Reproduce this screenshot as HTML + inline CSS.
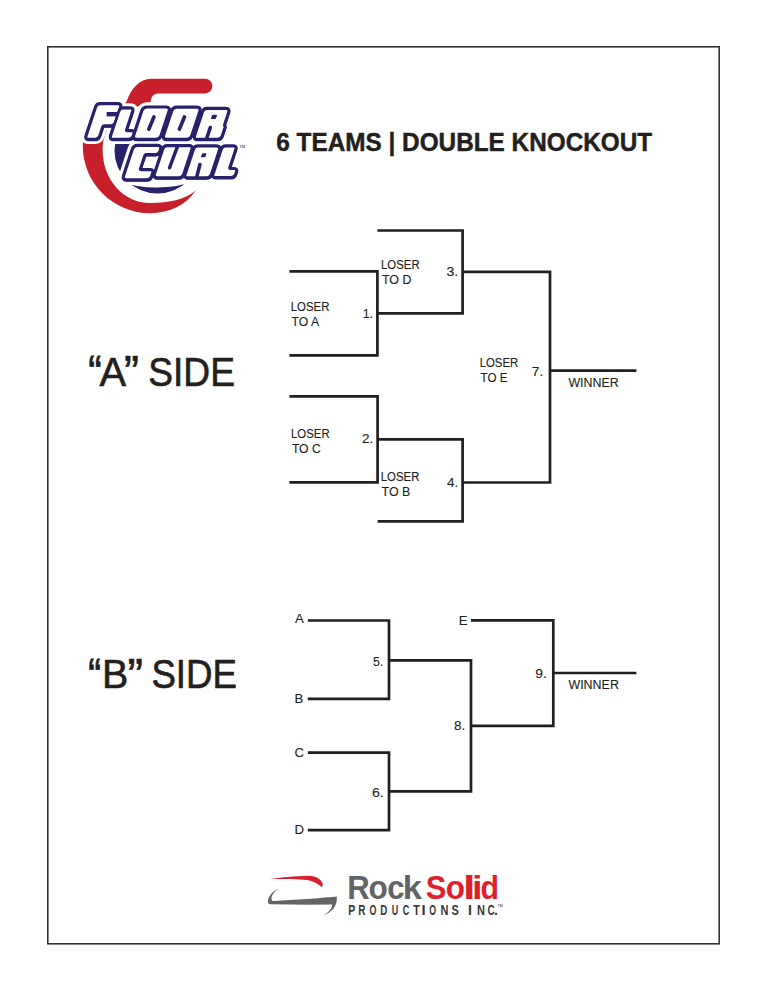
<!DOCTYPE html>
<html><head><meta charset="utf-8"><style>
html,body{margin:0;padding:0;background:#fff;}
svg{display:block;}
text{font-family:"Liberation Sans",sans-serif;}
</style></head><body>
<svg width="768" height="994" viewBox="0 0 768 994">
<rect x="0" y="0" width="768" height="994" fill="#fff"/>
<rect x="47.8" y="46.8" width="671.4" height="897" fill="none" stroke="#333" stroke-width="1.6"/>
<path fill="#c8202b" d="M205,78.7 L151,78.7 C140,79 131,88 126.4,102 L100,120 C88,130 82.8,138 82.8,146 A67.2 67.2 0 0 0 150,213.2 C170,213 186,205 195.6,190.5 C186,199 170,203 150,203 C124,203 102.6,180 102.6,150 C102.6,132 112,112 150.6,102.4 C151,97 153,93.4 158.3,93.4 L205,93.4 A7.35 7.35 0 0 0 205,78.7 Z"/>
<circle cx="157.5" cy="150.5" r="43" fill="#27226b"/>
<path d="M118,172 L200,172 L200,179.4 A126 126 0 0 1 118,181.4 Z" fill="#fff"/>
<path d="M86.30,135.96 Q85.30,139.00 88.50,139.00 L95.30,139.00 Q98.50,139.00 99.50,135.96 L102.58,126.64 Q102.95,125.50 104.16,125.50 L111.05,125.50 Q114.25,125.50 115.26,122.46 L120.35,107.04 Q121.35,104.00 118.15,104.00 L100.05,104.00 Q96.85,104.00 95.85,107.04 Z" fill="#fff" stroke="#fff" stroke-width="10" stroke-linejoin="round"/>
<path d="M110.80,135.96 Q109.80,139.00 113.00,139.00 L128.80,139.00 Q132.00,139.00 133.00,135.96 L133.64,134.04 Q134.64,131.00 131.44,131.00 L127.14,131.00 Q125.94,131.00 126.32,129.86 L132.46,111.24 Q133.46,108.20 130.26,108.20 L123.16,108.20 Q119.96,108.20 118.96,111.24 Z" fill="#fff" stroke="#fff" stroke-width="10" stroke-linejoin="round"/>
<path d="M134.05,135.20 Q132.80,139.00 136.80,139.00 L155.60,139.00 Q159.60,139.00 160.85,135.20 L168.81,111.10 Q170.06,107.30 166.06,107.30 L147.26,107.30 Q143.26,107.30 142.01,111.10 Z" fill="#fff" stroke="#fff" stroke-width="10" stroke-linejoin="round"/>
<path d="M163.95,135.20 Q162.70,139.00 166.70,139.00 L186.40,139.00 Q190.40,139.00 191.65,135.20 L199.54,111.30 Q200.80,107.50 196.80,107.50 L177.09,107.50 Q173.09,107.50 171.84,111.30 Z" fill="#fff" stroke="#fff" stroke-width="10" stroke-linejoin="round"/>
<path d="M194.80,135.96 Q193.80,139.00 197.00,139.00 L217.80,139.00 Q221.00,139.00 222.00,135.96 L224.90,127.19 Q225.12,126.50 224.59,126.00 L224.59,126.00 Q224.06,125.50 224.28,124.81 L228.38,112.40 Q229.63,108.60 225.63,108.60 L207.03,108.60 Q203.83,108.60 202.83,111.64 Z" fill="#fff" stroke="#fff" stroke-width="10" stroke-linejoin="round"/>
<path d="M123.86,175.70 Q122.60,179.50 126.60,179.50 L147.11,179.50 Q150.31,179.50 151.31,176.46 L152.47,172.94 Q153.47,169.90 150.27,169.90 L141.02,169.90 Q139.82,169.90 140.20,168.76 L144.56,155.54 Q144.94,154.40 146.14,154.40 L155.39,154.40 Q158.59,154.40 159.59,151.36 L160.24,149.40 Q161.49,145.60 157.49,145.60 L137.79,145.60 Q133.79,145.60 132.54,149.40 Z" fill="#fff" stroke="#fff" stroke-width="10" stroke-linejoin="round"/>
<path d="M154.82,173.70 Q153.56,177.50 157.56,177.50 L179.16,177.50 Q182.36,177.50 183.37,174.46 L191.76,149.04 Q192.76,146.00 189.56,146.00 L167.16,146.00 Q163.96,146.00 162.96,149.04 Z" fill="#fff" stroke="#fff" stroke-width="10" stroke-linejoin="round"/>
<path d="M185.37,174.46 Q184.36,177.50 187.56,177.50 L206.97,177.50 Q210.16,177.50 211.17,174.46 L219.24,150.00 Q220.49,146.20 216.49,146.20 L197.89,146.20 Q194.69,146.20 193.69,149.24 Z" fill="#fff" stroke="#fff" stroke-width="10" stroke-linejoin="round"/>
<path d="M213.27,174.16 Q212.26,177.20 215.46,177.20 L231.26,177.20 Q234.46,177.20 235.47,174.16 L236.23,171.84 Q237.24,168.80 234.04,168.80 L230.39,168.80 Q229.19,168.80 229.56,167.66 L235.64,149.24 Q236.64,146.20 233.44,146.20 L225.69,146.20 Q222.49,146.20 221.49,149.24 Z" fill="#fff" stroke="#fff" stroke-width="10" stroke-linejoin="round"/>
<path d="M123.55,176.65 Q122.60,179.50 125.60,179.50 L147.31,179.50 Q150.31,179.50 151.25,176.65 L160.55,148.45 Q161.49,145.60 158.49,145.60 L136.79,145.60 Q133.79,145.60 132.85,148.45 Z" fill="#fff"/>
<path d="M86.30,135.96 Q85.30,139.00 88.50,139.00 L95.30,139.00 Q98.50,139.00 99.50,135.96 L102.58,126.64 Q102.95,125.50 104.16,125.50 L111.05,125.50 Q114.25,125.50 115.26,122.46 L120.35,107.04 Q121.35,104.00 118.15,104.00 L100.05,104.00 Q96.85,104.00 95.85,107.04 Z" fill="#27226b" stroke="#27226b" stroke-width="3.8" stroke-linejoin="round"/>
<path d="M110.80,135.96 Q109.80,139.00 113.00,139.00 L128.80,139.00 Q132.00,139.00 133.00,135.96 L133.64,134.04 Q134.64,131.00 131.44,131.00 L127.14,131.00 Q125.94,131.00 126.32,129.86 L132.46,111.24 Q133.46,108.20 130.26,108.20 L123.16,108.20 Q119.96,108.20 118.96,111.24 Z" fill="#27226b" stroke="#27226b" stroke-width="3.8" stroke-linejoin="round"/>
<path d="M134.05,135.20 Q132.80,139.00 136.80,139.00 L155.60,139.00 Q159.60,139.00 160.85,135.20 L168.81,111.10 Q170.06,107.30 166.06,107.30 L147.26,107.30 Q143.26,107.30 142.01,111.10 Z" fill="#27226b" stroke="#27226b" stroke-width="3.8" stroke-linejoin="round"/>
<path d="M163.95,135.20 Q162.70,139.00 166.70,139.00 L186.40,139.00 Q190.40,139.00 191.65,135.20 L199.54,111.30 Q200.80,107.50 196.80,107.50 L177.09,107.50 Q173.09,107.50 171.84,111.30 Z" fill="#27226b" stroke="#27226b" stroke-width="3.8" stroke-linejoin="round"/>
<path d="M194.80,135.96 Q193.80,139.00 197.00,139.00 L217.80,139.00 Q221.00,139.00 222.00,135.96 L224.90,127.19 Q225.12,126.50 224.59,126.00 L224.59,126.00 Q224.06,125.50 224.28,124.81 L228.38,112.40 Q229.63,108.60 225.63,108.60 L207.03,108.60 Q203.83,108.60 202.83,111.64 Z" fill="#27226b" stroke="#27226b" stroke-width="3.8" stroke-linejoin="round"/>
<path d="M123.86,175.70 Q122.60,179.50 126.60,179.50 L147.11,179.50 Q150.31,179.50 151.31,176.46 L152.47,172.94 Q153.47,169.90 150.27,169.90 L141.02,169.90 Q139.82,169.90 140.20,168.76 L144.56,155.54 Q144.94,154.40 146.14,154.40 L155.39,154.40 Q158.59,154.40 159.59,151.36 L160.24,149.40 Q161.49,145.60 157.49,145.60 L137.79,145.60 Q133.79,145.60 132.54,149.40 Z" fill="#27226b" stroke="#27226b" stroke-width="3.8" stroke-linejoin="round"/>
<path d="M154.82,173.70 Q153.56,177.50 157.56,177.50 L179.16,177.50 Q182.36,177.50 183.37,174.46 L191.76,149.04 Q192.76,146.00 189.56,146.00 L167.16,146.00 Q163.96,146.00 162.96,149.04 Z" fill="#27226b" stroke="#27226b" stroke-width="3.8" stroke-linejoin="round"/>
<path d="M185.37,174.46 Q184.36,177.50 187.56,177.50 L206.97,177.50 Q210.16,177.50 211.17,174.46 L219.24,150.00 Q220.49,146.20 216.49,146.20 L197.89,146.20 Q194.69,146.20 193.69,149.24 Z" fill="#27226b" stroke="#27226b" stroke-width="3.8" stroke-linejoin="round"/>
<path d="M213.27,174.16 Q212.26,177.20 215.46,177.20 L231.26,177.20 Q234.46,177.20 235.47,174.16 L236.23,171.84 Q237.24,168.80 234.04,168.80 L230.39,168.80 Q229.19,168.80 229.56,167.66 L235.64,149.24 Q236.64,146.20 233.44,146.20 L225.69,146.20 Q222.49,146.20 221.49,149.24 Z" fill="#27226b" stroke="#27226b" stroke-width="3.8" stroke-linejoin="round"/>
<path d="M86.30,135.96 Q85.30,139.00 88.50,139.00 L95.30,139.00 Q98.50,139.00 99.50,135.96 L102.58,126.64 Q102.95,125.50 104.16,125.50 L111.05,125.50 Q114.25,125.50 115.26,122.46 L120.35,107.04 Q121.35,104.00 118.15,104.00 L100.05,104.00 Q96.85,104.00 95.85,107.04 Z" fill="none" stroke="#27226b" stroke-width="2.8" stroke-linejoin="round" transform="translate(0,0.8)"/>
<path d="M110.80,135.96 Q109.80,139.00 113.00,139.00 L128.80,139.00 Q132.00,139.00 133.00,135.96 L133.64,134.04 Q134.64,131.00 131.44,131.00 L127.14,131.00 Q125.94,131.00 126.32,129.86 L132.46,111.24 Q133.46,108.20 130.26,108.20 L123.16,108.20 Q119.96,108.20 118.96,111.24 Z" fill="none" stroke="#27226b" stroke-width="2.8" stroke-linejoin="round" transform="translate(0,0.8)"/>
<path d="M134.05,135.20 Q132.80,139.00 136.80,139.00 L155.60,139.00 Q159.60,139.00 160.85,135.20 L168.81,111.10 Q170.06,107.30 166.06,107.30 L147.26,107.30 Q143.26,107.30 142.01,111.10 Z" fill="none" stroke="#27226b" stroke-width="2.8" stroke-linejoin="round" transform="translate(0,0.8)"/>
<path d="M163.95,135.20 Q162.70,139.00 166.70,139.00 L186.40,139.00 Q190.40,139.00 191.65,135.20 L199.54,111.30 Q200.80,107.50 196.80,107.50 L177.09,107.50 Q173.09,107.50 171.84,111.30 Z" fill="none" stroke="#27226b" stroke-width="2.8" stroke-linejoin="round" transform="translate(0,0.8)"/>
<path d="M194.80,135.96 Q193.80,139.00 197.00,139.00 L217.80,139.00 Q221.00,139.00 222.00,135.96 L224.90,127.19 Q225.12,126.50 224.59,126.00 L224.59,126.00 Q224.06,125.50 224.28,124.81 L228.38,112.40 Q229.63,108.60 225.63,108.60 L207.03,108.60 Q203.83,108.60 202.83,111.64 Z" fill="none" stroke="#27226b" stroke-width="2.8" stroke-linejoin="round" transform="translate(0,0.8)"/>
<path d="M123.86,175.70 Q122.60,179.50 126.60,179.50 L147.11,179.50 Q150.31,179.50 151.31,176.46 L152.47,172.94 Q153.47,169.90 150.27,169.90 L141.02,169.90 Q139.82,169.90 140.20,168.76 L144.56,155.54 Q144.94,154.40 146.14,154.40 L155.39,154.40 Q158.59,154.40 159.59,151.36 L160.24,149.40 Q161.49,145.60 157.49,145.60 L137.79,145.60 Q133.79,145.60 132.54,149.40 Z" fill="none" stroke="#27226b" stroke-width="2.8" stroke-linejoin="round" transform="translate(0,0.8)"/>
<path d="M154.82,173.70 Q153.56,177.50 157.56,177.50 L179.16,177.50 Q182.36,177.50 183.37,174.46 L191.76,149.04 Q192.76,146.00 189.56,146.00 L167.16,146.00 Q163.96,146.00 162.96,149.04 Z" fill="none" stroke="#27226b" stroke-width="2.8" stroke-linejoin="round" transform="translate(0,0.8)"/>
<path d="M185.37,174.46 Q184.36,177.50 187.56,177.50 L206.97,177.50 Q210.16,177.50 211.17,174.46 L219.24,150.00 Q220.49,146.20 216.49,146.20 L197.89,146.20 Q194.69,146.20 193.69,149.24 Z" fill="none" stroke="#27226b" stroke-width="2.8" stroke-linejoin="round" transform="translate(0,0.8)"/>
<path d="M213.27,174.16 Q212.26,177.20 215.46,177.20 L231.26,177.20 Q234.46,177.20 235.47,174.16 L236.23,171.84 Q237.24,168.80 234.04,168.80 L230.39,168.80 Q229.19,168.80 229.56,167.66 L235.64,149.24 Q236.64,146.20 233.44,146.20 L225.69,146.20 Q222.49,146.20 221.49,149.24 Z" fill="none" stroke="#27226b" stroke-width="2.8" stroke-linejoin="round" transform="translate(0,0.8)"/>
<path d="M86.30,135.96 Q85.30,139.00 88.50,139.00 L95.30,139.00 Q98.50,139.00 99.50,135.96 L102.58,126.64 Q102.95,125.50 104.16,125.50 L111.05,125.50 Q114.25,125.50 115.26,122.46 L120.35,107.04 Q121.35,104.00 118.15,104.00 L100.05,104.00 Q96.85,104.00 95.85,107.04 Z" fill="#fff" stroke="#27226b" stroke-width="2.6" stroke-linejoin="round"/>
<path d="M110.80,135.96 Q109.80,139.00 113.00,139.00 L128.80,139.00 Q132.00,139.00 133.00,135.96 L133.64,134.04 Q134.64,131.00 131.44,131.00 L127.14,131.00 Q125.94,131.00 126.32,129.86 L132.46,111.24 Q133.46,108.20 130.26,108.20 L123.16,108.20 Q119.96,108.20 118.96,111.24 Z" fill="#fff" stroke="#27226b" stroke-width="2.6" stroke-linejoin="round"/>
<path d="M134.05,135.20 Q132.80,139.00 136.80,139.00 L155.60,139.00 Q159.60,139.00 160.85,135.20 L168.81,111.10 Q170.06,107.30 166.06,107.30 L147.26,107.30 Q143.26,107.30 142.01,111.10 Z" fill="#fff" stroke="#27226b" stroke-width="2.6" stroke-linejoin="round"/>
<path d="M163.95,135.20 Q162.70,139.00 166.70,139.00 L186.40,139.00 Q190.40,139.00 191.65,135.20 L199.54,111.30 Q200.80,107.50 196.80,107.50 L177.09,107.50 Q173.09,107.50 171.84,111.30 Z" fill="#fff" stroke="#27226b" stroke-width="2.6" stroke-linejoin="round"/>
<path d="M194.80,135.96 Q193.80,139.00 197.00,139.00 L217.80,139.00 Q221.00,139.00 222.00,135.96 L224.90,127.19 Q225.12,126.50 224.59,126.00 L224.59,126.00 Q224.06,125.50 224.28,124.81 L228.38,112.40 Q229.63,108.60 225.63,108.60 L207.03,108.60 Q203.83,108.60 202.83,111.64 Z" fill="#fff" stroke="#27226b" stroke-width="2.6" stroke-linejoin="round"/>
<path d="M123.86,175.70 Q122.60,179.50 126.60,179.50 L147.11,179.50 Q150.31,179.50 151.31,176.46 L152.47,172.94 Q153.47,169.90 150.27,169.90 L141.02,169.90 Q139.82,169.90 140.20,168.76 L144.56,155.54 Q144.94,154.40 146.14,154.40 L155.39,154.40 Q158.59,154.40 159.59,151.36 L160.24,149.40 Q161.49,145.60 157.49,145.60 L137.79,145.60 Q133.79,145.60 132.54,149.40 Z" fill="#fff" stroke="#27226b" stroke-width="2.6" stroke-linejoin="round"/>
<path d="M154.82,173.70 Q153.56,177.50 157.56,177.50 L179.16,177.50 Q182.36,177.50 183.37,174.46 L191.76,149.04 Q192.76,146.00 189.56,146.00 L167.16,146.00 Q163.96,146.00 162.96,149.04 Z" fill="#fff" stroke="#27226b" stroke-width="2.6" stroke-linejoin="round"/>
<path d="M185.37,174.46 Q184.36,177.50 187.56,177.50 L206.97,177.50 Q210.16,177.50 211.17,174.46 L219.24,150.00 Q220.49,146.20 216.49,146.20 L197.89,146.20 Q194.69,146.20 193.69,149.24 Z" fill="#fff" stroke="#27226b" stroke-width="2.6" stroke-linejoin="round"/>
<path d="M213.27,174.16 Q212.26,177.20 215.46,177.20 L231.26,177.20 Q234.46,177.20 235.47,174.16 L236.23,171.84 Q237.24,168.80 234.04,168.80 L230.39,168.80 Q229.19,168.80 229.56,167.66 L235.64,149.24 Q236.64,146.20 233.44,146.20 L225.69,146.20 Q222.49,146.20 221.49,149.24 Z" fill="#fff" stroke="#27226b" stroke-width="2.6" stroke-linejoin="round"/>
<line x1="106.68" y1="114.2" x2="117.98" y2="114.2" stroke="#27226b" stroke-width="4.4"/>
<line x1="154.00" y1="116.80" x2="148.80" y2="129.20" stroke="#27226b" stroke-width="3.6" stroke-linecap="round"/>
<line x1="184.50" y1="116.80" x2="179.40" y2="129.20" stroke="#27226b" stroke-width="3.6" stroke-linecap="round"/>
<line x1="210.29" y1="127.50" x2="206.50" y2="139.00" stroke="#27226b" stroke-width="3.6" stroke-linecap="round"/>
<path d="M211.05,118.24 Q210.80,119.00 211.60,119.00 L215.00,119.00 Q215.80,119.00 216.05,118.24 L216.94,115.56 Q217.19,114.80 216.39,114.80 L212.99,114.80 Q212.19,114.80 211.94,115.56 Z" fill="#27226b"/>
<line x1="177.50" y1="146.40" x2="169.50" y2="167.80" stroke="#27226b" stroke-width="3.4" stroke-linecap="round"/>
<path d="M200.98,156.55 Q200.70,157.30 201.50,157.30 L204.60,157.30 Q205.40,157.30 205.63,156.53 L206.37,154.07 Q206.60,153.30 205.80,153.30 L203.00,153.30 Q202.20,153.30 201.92,154.05 Z" fill="#27226b"/>
<line x1="199.90" y1="164.60" x2="196.60" y2="177.50" stroke="#27226b" stroke-width="3.6" stroke-linecap="round"/>
<text x="239.3" y="148" font-size="4.2" fill="#27226b">TM</text>
<path d="M289.4,271.4 H377.4 V355.4 H289.4" fill="none" stroke="#231f20" stroke-width="2.7" stroke-linejoin="miter"/>
<path d="M377.4,230.5 H462.6 V313.3 H377.4" fill="none" stroke="#231f20" stroke-width="2.7" stroke-linejoin="miter"/>
<path d="M462.6,271.8 H550 V482.5 H462.6" fill="none" stroke="#231f20" stroke-width="2.7" stroke-linejoin="miter"/>
<path d="M550,370.6 H636.4" fill="none" stroke="#231f20" stroke-width="2.7" stroke-linejoin="miter"/>
<path d="M289.4,396.4 H377.6 V482.3 H289.4" fill="none" stroke="#231f20" stroke-width="2.7" stroke-linejoin="miter"/>
<path d="M377.6,439.4 H462.6 V521.4 H377.6" fill="none" stroke="#231f20" stroke-width="2.7" stroke-linejoin="miter"/>
<path d="M307.8,620.5 H389 V698.9 H307.8" fill="none" stroke="#231f20" stroke-width="2.7" stroke-linejoin="miter"/>
<path d="M307.8,752.7 H389 V830.2 H307.8" fill="none" stroke="#231f20" stroke-width="2.7" stroke-linejoin="miter"/>
<path d="M389,660.4 H471 V791.4 H389" fill="none" stroke="#231f20" stroke-width="2.7" stroke-linejoin="miter"/>
<path d="M471,620.3 H553.3 V725.9 H471" fill="none" stroke="#231f20" stroke-width="2.7" stroke-linejoin="miter"/>
<path d="M553.3,673 H636.4" fill="none" stroke="#231f20" stroke-width="2.7" stroke-linejoin="miter"/>
<text transform="translate(381.03,268.90) scale(0.8651,1.0)" font-size="13.2" font-weight="normal" fill="#231f20" stroke="#231f20" stroke-width="0.139">LOSER</text>
<text transform="translate(381.90,283.75) scale(0.9419,1.0)" font-size="13.2" font-weight="normal" fill="#231f20" stroke="#231f20" stroke-width="0.127">TO D</text>
<text transform="translate(290.73,310.90) scale(0.8651,1.0)" font-size="13.2" font-weight="normal" fill="#231f20" stroke="#231f20" stroke-width="0.139">LOSER</text>
<text transform="translate(291.60,325.90) scale(0.9267,1.0)" font-size="13.2" font-weight="normal" fill="#231f20" stroke="#231f20" stroke-width="0.129">TO A</text>
<text transform="translate(291.03,438.20) scale(0.8651,1.0)" font-size="13.2" font-weight="normal" fill="#231f20" stroke="#231f20" stroke-width="0.139">LOSER</text>
<text transform="translate(291.90,452.80) scale(0.9233,1.0)" font-size="13.2" font-weight="normal" fill="#231f20" stroke="#231f20" stroke-width="0.130">TO C</text>
<text transform="translate(380.73,481.00) scale(0.8651,1.0)" font-size="13.2" font-weight="normal" fill="#231f20" stroke="#231f20" stroke-width="0.139">LOSER</text>
<text transform="translate(381.60,495.60) scale(0.9433,1.0)" font-size="13.2" font-weight="normal" fill="#231f20" stroke="#231f20" stroke-width="0.127">TO B</text>
<text transform="translate(479.63,367.20) scale(0.8651,1.0)" font-size="13.2" font-weight="normal" fill="#231f20" stroke="#231f20" stroke-width="0.139">LOSER</text>
<text transform="translate(480.50,382.20) scale(0.8833,1.0)" font-size="13.2" font-weight="normal" fill="#231f20" stroke="#231f20" stroke-width="0.136">TO E</text>
<text transform="translate(568.40,386.90) scale(0.9396,1.0)" font-size="13.2" font-weight="normal" fill="#231f20" stroke="#231f20" stroke-width="0.128">WINNER</text>
<text transform="translate(568.40,688.75) scale(0.9434,1.0)" font-size="13.2" font-weight="normal" fill="#231f20" stroke="#231f20" stroke-width="0.127">WINNER</text>
<text transform="translate(362.77,317.80) scale(0.9333,1.0)" font-size="13.2" font-weight="normal" fill="#231f20" stroke="#231f20" stroke-width="0.129">1.</text>
<text transform="translate(361.98,443.20) scale(1.0222,1.0)" font-size="13.2" font-weight="normal" fill="#231f20" stroke="#231f20" stroke-width="0.117">2.</text>
<text transform="translate(446.42,275.60) scale(1.0778,1.0)" font-size="13.2" font-weight="normal" fill="#231f20" stroke="#231f20" stroke-width="0.111">3.</text>
<text transform="translate(447.00,486.60) scale(1.0200,1.0)" font-size="13.2" font-weight="normal" fill="#231f20" stroke="#231f20" stroke-width="0.118">4.</text>
<text transform="translate(531.76,375.90) scale(1.0444,1.0)" font-size="13.2" font-weight="normal" fill="#231f20" stroke="#231f20" stroke-width="0.115">7.</text>
<text transform="translate(372.97,665.60) scale(0.9333,1.0)" font-size="13.2" font-weight="normal" fill="#231f20" stroke="#231f20" stroke-width="0.129">5.</text>
<text transform="translate(371.93,796.80) scale(1.0667,1.0)" font-size="13.2" font-weight="normal" fill="#231f20" stroke="#231f20" stroke-width="0.112">6.</text>
<text transform="translate(453.98,730.00) scale(1.0222,1.0)" font-size="13.2" font-weight="normal" fill="#231f20" stroke="#231f20" stroke-width="0.117">8.</text>
<text transform="translate(535.36,677.70) scale(1.0444,1.0)" font-size="13.2" font-weight="normal" fill="#231f20" stroke="#231f20" stroke-width="0.115">9.</text>
<text transform="translate(295.00,623.40) scale(1.0000,1.0)" font-size="13.2" font-weight="normal" fill="#231f20" stroke="#231f20" stroke-width="0.120">A</text>
<text transform="translate(294.60,703.00) scale(1.0000,1.0)" font-size="13.2" font-weight="normal" fill="#231f20" stroke="#231f20" stroke-width="0.120">B</text>
<text transform="translate(294.60,757.00) scale(1.0000,1.0)" font-size="13.2" font-weight="normal" fill="#231f20" stroke="#231f20" stroke-width="0.120">C</text>
<text transform="translate(294.60,834.40) scale(1.0000,1.0)" font-size="13.2" font-weight="normal" fill="#231f20" stroke="#231f20" stroke-width="0.120">D</text>
<text transform="translate(458.70,624.60) scale(1.0000,1.0)" font-size="13.2" font-weight="normal" fill="#231f20" stroke="#231f20" stroke-width="0.120">E</text>
<text transform="translate(88.21,388.40) scale(0.9909,1.148)" font-size="40.7" font-weight="normal" fill="#231f20" stroke="#231f20" stroke-width="0.706">&#8220;</text>
<text transform="translate(99.60,385.80) scale(0.9815,1.0)" font-size="40.7" font-weight="normal" fill="#231f20" stroke="#231f20" stroke-width="0.611">A</text>
<text transform="translate(123.90,388.40) scale(1.1000,1.148)" font-size="40.7" font-weight="normal" fill="#231f20" stroke="#231f20" stroke-width="0.636">&#8221;</text>
<text transform="translate(148.28,385.80) scale(0.9121,1.0)" font-size="40.7" font-weight="normal" fill="#231f20" stroke="#231f20" stroke-width="0.658">SIDE</text>
<text transform="translate(88.25,691.05) scale(0.9455,1.148)" font-size="40.7" font-weight="normal" fill="#231f20" stroke="#231f20" stroke-width="0.740">&#8220;</text>
<text transform="translate(101.90,688.10) scale(0.9682,1.0)" font-size="40.7" font-weight="normal" fill="#231f20" stroke="#231f20" stroke-width="0.620">B</text>
<text transform="translate(127.51,691.05) scale(1.1450,1.148)" font-size="40.7" font-weight="normal" fill="#231f20" stroke="#231f20" stroke-width="0.611">&#8221;</text>
<text transform="translate(151.40,688.10) scale(0.9011,1.0)" font-size="40.7" font-weight="normal" fill="#231f20" stroke="#231f20" stroke-width="0.666">SIDE</text>
<text transform="translate(276.33,150.70) scale(0.9740,1.0)" font-size="25" font-weight="bold" fill="#231f20" stroke="#231f20" stroke-width="0.462">6 TEAMS | DOUBLE KNOCKOUT</text>
<path fill="#d9202e" d="M270,879.1 C280,877.5 295,876 309,875.8 C316,876 321,879 322.7,883.75 C323,885 322.5,886.5 321.5,887.3 C319,884 314,881.5 306.9,880 C298,879.3 285,879.2 270,879.1 Z"/>
<path fill="#636466" d="M279.3,889 C274,890 269,895 268,900.2 C267.5,903 268.5,904.3 270.5,904.3 L306.9,904.8 L332.1,904.6 C332,909 328,913 323.3,915.2 C331,913 336,907 336.8,900.2 L336.8,896.4 C325,897.5 306.9,899 306.9,899 L273,901 C271,900.5 271,897 272.9,894.3 C274,892 276.5,890 279.3,889 Z"/>
<text transform="translate(347.31,898.60) scale(0.9429,1.0)" font-size="33" font-weight="bold" fill="#636466">R</text>
<text transform="translate(368.54,898.60) scale(0.9556,1.0)" font-size="33" font-weight="bold" fill="#636466">o</text>
<text transform="translate(387.26,898.60) scale(0.9438,1.0)" font-size="33" font-weight="bold" fill="#636466">c</text>
<text transform="translate(402.81,898.60) scale(1.0438,1.0)" font-size="33" font-weight="bold" fill="#636466">k</text>
<text transform="translate(425.87,898.60) scale(0.9350,1.0)" font-size="33" font-weight="bold" fill="#df1f2d">S</text>
<text transform="translate(445.65,898.60) scale(0.9528,1.0)" font-size="33" font-weight="bold" fill="#df1f2d">o</text>
<text transform="translate(463.08,898.60) scale(1.3600,1.0)" font-size="33" font-weight="bold" fill="#df1f2d">l</text>
<text transform="translate(471.88,898.60) scale(1.1600,1.0)" font-size="33" font-weight="bold" fill="#df1f2d">i</text>
<text transform="translate(480.58,898.60) scale(0.9176,1.0)" font-size="33" font-weight="bold" fill="#df1f2d">d</text>
<text transform="translate(348.26,914.60) scale(0.7375,1.0)" font-size="14.2" font-weight="bold" fill="#3a3a3a">P</text>
<text transform="translate(358.30,914.60) scale(0.7000,1.0)" font-size="14.2" font-weight="bold" fill="#3a3a3a">R</text>
<text transform="translate(369.38,914.60) scale(0.6250,1.0)" font-size="14.2" font-weight="bold" fill="#3a3a3a">O</text>
<text transform="translate(380.31,914.60) scale(0.6889,1.0)" font-size="14.2" font-weight="bold" fill="#3a3a3a">D</text>
<text transform="translate(391.77,914.60) scale(0.6333,1.0)" font-size="14.2" font-weight="bold" fill="#3a3a3a">U</text>
<text transform="translate(402.67,914.60) scale(0.6333,1.0)" font-size="14.2" font-weight="bold" fill="#3a3a3a">C</text>
<text transform="translate(413.20,914.60) scale(0.7556,1.0)" font-size="14.2" font-weight="bold" fill="#3a3a3a">T</text>
<text transform="translate(421.55,914.60) scale(1.0500,1.0)" font-size="14.2" font-weight="bold" fill="#3a3a3a">I</text>
<text transform="translate(429.28,914.60) scale(0.6200,1.0)" font-size="14.2" font-weight="bold" fill="#3a3a3a">O</text>
<text transform="translate(440.62,914.60) scale(0.7750,1.0)" font-size="14.2" font-weight="bold" fill="#3a3a3a">N</text>
<text transform="translate(451.53,914.60) scale(0.7750,1.0)" font-size="14.2" font-weight="bold" fill="#3a3a3a">S</text>
<text transform="translate(468.00,914.60) scale(1.0000,1.0)" font-size="14.2" font-weight="bold" fill="#3a3a3a">I</text>
<text transform="translate(477.03,914.60) scale(0.7750,1.0)" font-size="14.2" font-weight="bold" fill="#3a3a3a">N</text>
<text transform="translate(487.50,914.60) scale(0.7000,1.0)" font-size="14.2" font-weight="bold" fill="#3a3a3a">C</text>
<text transform="translate(494.00,914.60) scale(1.0000,1.0)" font-size="14.2" font-weight="bold" fill="#3a3a3a">.</text>
<text x="497.6" y="906.5" font-size="3.5" fill="#231f20">TM</text>
</svg>
</body></html>
